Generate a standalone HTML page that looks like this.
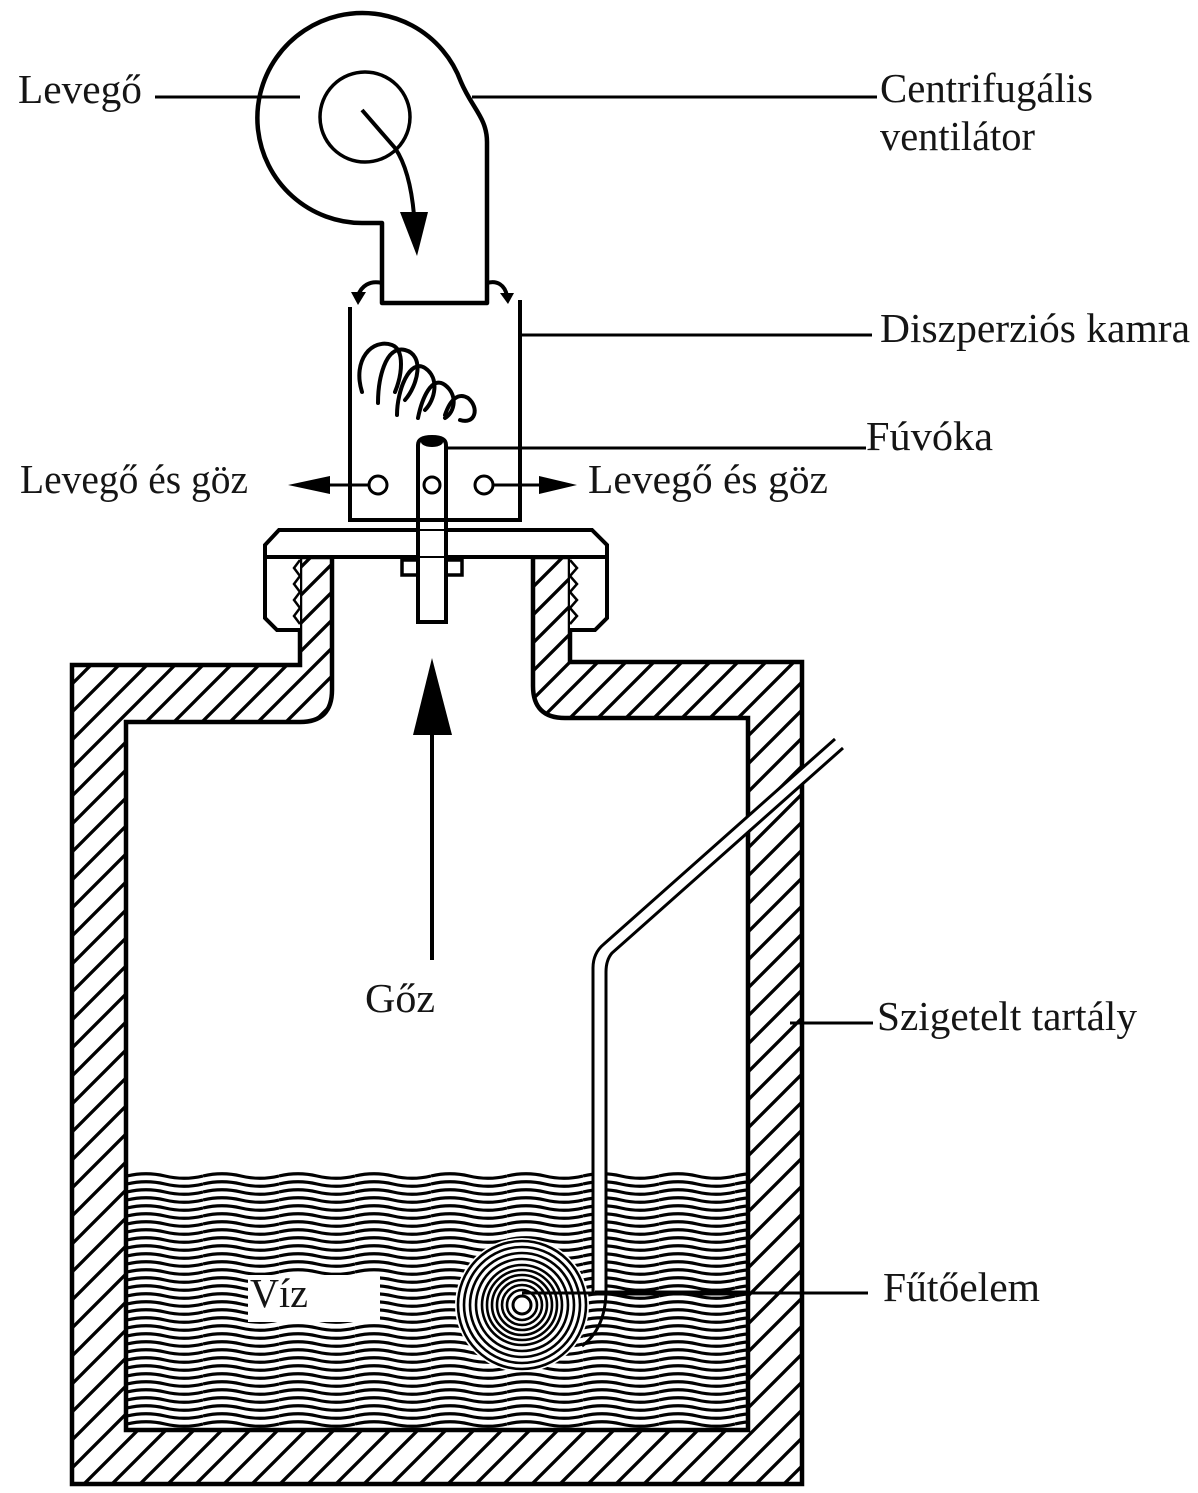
<!DOCTYPE html>
<html>
<head>
<meta charset="utf-8">
<style>
  html, body { margin:0; padding:0; background:#fff; }
  svg { display:block; }
  text { font-family: "Liberation Serif", "DejaVu Serif", serif; font-size: 41px; fill:#151515; }
</style>
</head>
<body>
<svg width="1198" height="1493" viewBox="0 0 1198 1493" xmlns="http://www.w3.org/2000/svg">
  <defs>
    <pattern id="hatch" patternUnits="userSpaceOnUse" width="28" height="28">
      <path d="M-7,7 L7,-7 M0,28 L28,0 M21,35 L35,21" stroke="#000" stroke-width="3.3"/>
    </pattern>
    <pattern id="wave" patternUnits="userSpaceOnUse" x="127" y="1172" width="76" height="8">
      <path d="M0,4 Q19,-0.5 38,4 T76,4" fill="none" stroke="#000" stroke-width="3.2"/>
    </pattern>
  </defs>

  <rect width="1198" height="1493" fill="#fff"/>

  <!-- water -->
  <rect x="127" y="1172" width="620" height="256" fill="url(#wave)"/>

  <!-- tank wall (hatched) -->
  <path d="M300,557 L300,665 L72,665 L72,1484 L802,1484 L802,662 L570,662 L570,557 L533,557 L533,686 Q533,718 565,718 L748,718 L748,1430 L126,1430 L126,722 L300,722 Q332,722 332,690 L332,557 Z"
        fill="url(#hatch)" stroke="#000" stroke-width="4.5" stroke-linejoin="miter"/>

  <!-- caps -->
  <path d="M300,557 L265,557 L265,618 L277,630 L300,630" fill="#fff" stroke="#000" stroke-width="4"/>
  <polyline points="300,560 294,568 300,576 294,584 300,592 294,600 300,608 294,616 300,624" fill="none" stroke="#000" stroke-width="2.5"/>
  <path d="M570,557 L607,557 L607,618 L595,630 L570,630" fill="#fff" stroke="#000" stroke-width="4"/>
  <polyline points="570,560 577,568 570,576 577,584 570,592 577,600 570,608 577,616 570,624" fill="none" stroke="#000" stroke-width="2.5"/>

  <!-- plate -->
  <path d="M265,557 L265,545 L279,530 L592,530 L607,545 L607,557 Z" fill="#fff" stroke="#000" stroke-width="4"/>

  <!-- nut and rod (nozzle) -->
  <rect x="402" y="560" width="60" height="15" fill="#fff" stroke="#000" stroke-width="3.5"/>
  <path d="M418,622 L418,445 Q418,437 432,437 Q446,437 446,445 L446,622 Z" fill="#fff" stroke="#000" stroke-width="4"/>
  <ellipse cx="432" cy="442" rx="11" ry="5" fill="#000"/>
  <line x1="418" y1="530" x2="446" y2="530" stroke="#000" stroke-width="2"/>
  <line x1="418" y1="557" x2="446" y2="557" stroke="#000" stroke-width="2"/>

  <!-- chamber -->
  <path d="M350,307 L350,520 L520,520 L520,300" fill="none" stroke="#000" stroke-width="4"/>
  <!-- swirl -->
  <g fill="none" stroke="#000" stroke-width="4" stroke-linecap="round">
    <path d="M362,392 C352,360 372,338 392,345 C405,350 402,375 395,392"/>
    <path d="M378,403 C378,380 385,345 405,350 C425,355 418,385 405,400"/>
    <path d="M397,415 C397,390 410,358 425,368 C440,378 435,400 425,410"/>
    <path d="M418,418 C422,398 432,375 445,385 C458,395 455,412 445,418"/>
    <path d="M445,415 C450,400 458,392 468,398 C480,408 475,425 460,420"/>
  </g>

  <!-- holes -->
  <circle cx="378" cy="485" r="9" fill="#fff" stroke="#000" stroke-width="3"/>
  <circle cx="432" cy="485" r="8" fill="#fff" stroke="#000" stroke-width="3"/>
  <circle cx="484" cy="485" r="9" fill="#fff" stroke="#000" stroke-width="3"/>

  <!-- side arrows -->
  <line x1="368" y1="485" x2="322" y2="485" stroke="#000" stroke-width="3"/>
  <polygon points="288,485 330,476 330,494" fill="#000"/>
  <line x1="494" y1="485" x2="545" y2="485" stroke="#000" stroke-width="3"/>
  <polygon points="577,485 539,476 539,494" fill="#000"/>

  <!-- fan scroll -->
  <path d="M487,303 L382,303 L382,223 L362,223 A105,105 0 1 1 461,82 C472,108 487,118 487,142 Z"
        fill="none" stroke="#000" stroke-width="4.5" stroke-linejoin="round"/>
  <circle cx="365" cy="117" r="45" fill="none" stroke="#000" stroke-width="3.5"/>
  <path d="M362,110 L395,148 Q410,170 414,215" fill="none" stroke="#000" stroke-width="4"/>
  <polygon points="400,212 428,212 417,256" fill="#000"/>

  <!-- hooks at outlet -->
  <path d="M382,283 C370,280 361,286 358,296" fill="none" stroke="#000" stroke-width="4"/>
  <polygon points="351,292 366,292 358,305" fill="#000"/>
  <path d="M487,283 C497,280 505,285 507,296" fill="none" stroke="#000" stroke-width="4"/>
  <polygon points="500,293 514,293 508,304" fill="#000"/>

  <!-- steam arrow -->
  <line x1="432" y1="730" x2="432" y2="960" stroke="#000" stroke-width="4"/>
  <polygon points="432,658 413,735 452,735" fill="#000"/>

  <!-- heater pipe -->
  <path d="M599.5,1292 L599.5,970 Q599.5,957 608,948 L839,743" fill="none" stroke="#fff" stroke-width="10"/>
  <path d="M593,1295 L593,968 Q593,953 604,944 L835,739" fill="none" stroke="#000" stroke-width="3"/>
  <path d="M606,1290 L606,972 Q606,960 612,953 L843,748" fill="none" stroke="#000" stroke-width="3"/>

  <!-- heater coil -->
  <circle cx="522" cy="1305" r="67" fill="#fff"/>
  <g fill="none" stroke="#000" stroke-width="2.6">
    <circle cx="522" cy="1305" r="64"/>
    <circle cx="522" cy="1305" r="58"/>
    <circle cx="522" cy="1305" r="52"/>
    <circle cx="522" cy="1305" r="46"/>
    <circle cx="522" cy="1305" r="40"/>
    <circle cx="522" cy="1305" r="35"/>
    <circle cx="522" cy="1305" r="30"/>
    <circle cx="522" cy="1305" r="25"/>
    <circle cx="522" cy="1305" r="20"/>
    <circle cx="522" cy="1305" r="15"/>
  </g>
  <circle cx="522" cy="1305" r="9" fill="#fff" stroke="#000" stroke-width="3"/>
  <path d="M606,1290 Q606,1328 582,1346" fill="none" stroke="#000" stroke-width="3"/>

  <!-- Fűtőelem leader -->
  <line x1="522" y1="1293" x2="868" y2="1293" stroke="#000" stroke-width="3"/>
  <line x1="595" y1="1293" x2="748" y2="1293" stroke="#000" stroke-width="5"/>

  <!-- Víz label box -->
  <rect x="248" y="1275" width="132" height="47" fill="#fff"/>

  <!-- leaders -->
  <g stroke="#000" stroke-width="3">
    <line x1="155" y1="97" x2="300" y2="97"/>
    <line x1="472" y1="97" x2="877" y2="97"/>
    <line x1="520" y1="335" x2="872" y2="335"/>
    <line x1="447" y1="448" x2="866" y2="448"/>
    <line x1="790" y1="1023" x2="873" y2="1023"/>
  </g>

  <!-- labels -->
  <text x="18" y="103" textLength="124" lengthAdjust="spacingAndGlyphs">Levegő</text>
  <text x="880" y="102" textLength="213" lengthAdjust="spacingAndGlyphs">Centrifugális</text>
  <text x="880" y="150" textLength="155" lengthAdjust="spacingAndGlyphs">ventilátor</text>
  <text x="880" y="342" textLength="310" lengthAdjust="spacingAndGlyphs">Diszperziós kamra</text>
  <text x="866" y="450" textLength="127" lengthAdjust="spacingAndGlyphs">Fúvóka</text>
  <text x="20" y="493" textLength="228" lengthAdjust="spacingAndGlyphs">Levegő és göz</text>
  <text x="588" y="493" textLength="240" lengthAdjust="spacingAndGlyphs">Levegő és göz</text>
  <text x="365" y="1012" textLength="70" lengthAdjust="spacingAndGlyphs">Gőz</text>
  <text x="877" y="1030" textLength="260" lengthAdjust="spacingAndGlyphs">Szigetelt tartály</text>
  <text x="250" y="1307" textLength="58" lengthAdjust="spacingAndGlyphs">Víz</text>
  <text x="883" y="1301" textLength="157" lengthAdjust="spacingAndGlyphs">Fűtőelem</text>
</svg>
</body>
</html>
